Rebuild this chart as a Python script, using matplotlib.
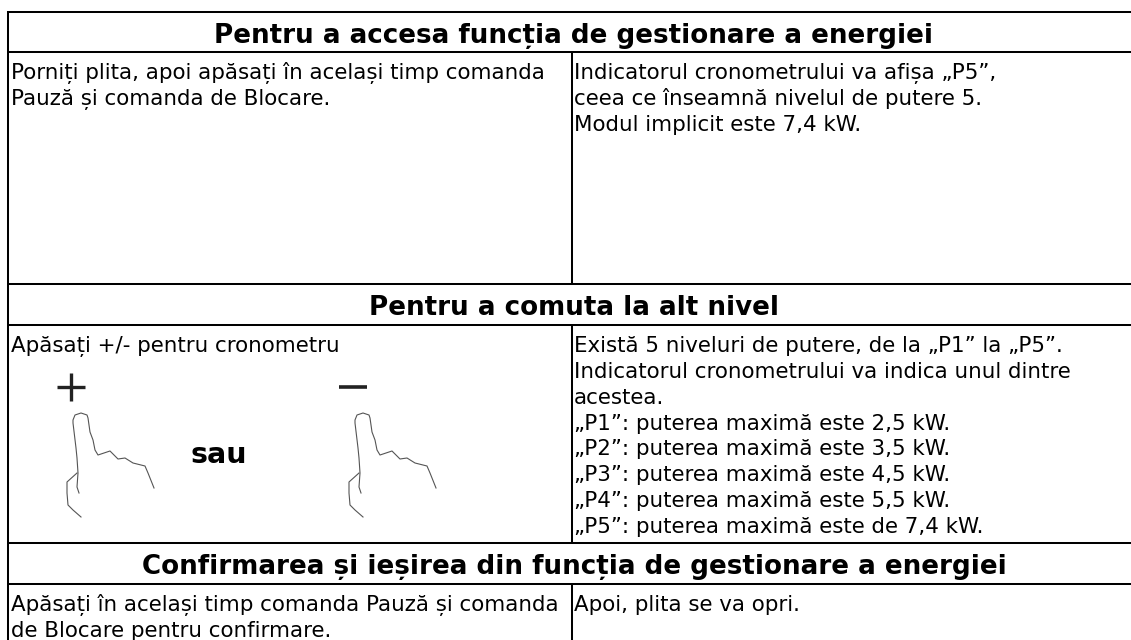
import matplotlib
matplotlib.use('Agg')
import matplotlib.pyplot as plt

plt.rcParams['font.family'] = ['DejaVu Sans']

# titluri si texte din tabel
titles = ["Pentru a accesa funcția de gestionare a energiei",
          "Pentru a comuta la alt nivel",
          "Confirmarea și ieșirea din funcția de gestionare a energiei"]
title_y = [43, 315, 574]

left_1 = ["Porniți plita, apoi apăsați în același timp comanda",
          "Pauză și comanda de Blocare."]
right_1 = ["Indicatorul cronometrului va afișa „P5”,",
           "ceea ce înseamnă nivelul de putere 5.",
           "Modul implicit este 7,4 kW."]
left_2 = ["Apăsați +/- pentru cronometru"]
right_2 = ["Există 5 niveluri de putere, de la „P1” la „P5”.",
           "Indicatorul cronometrului va indica unul dintre",
           "acestea.",
           "„P1”: puterea maximă este 2,5 kW.",
           "„P2”: puterea maximă este 3,5 kW.",
           "„P3”: puterea maximă este 4,5 kW.",
           "„P4”: puterea maximă este 5,5 kW.",
           "„P5”: puterea maximă este de 7,4 kW."]
left_3 = ["Apăsați în același timp comanda Pauză și comanda",
          "de Blocare pentru confirmare."]
right_3 = ["Apoi, plita se va opri."]

# conturul mainii, in pixeli
finger_x = [79, 77, 78, 77, 76, 73, 73, 75, 81, 87, 88, 90, 93, 95, 98, 110, 118, 125, 133, 145, 148, 154]
finger_y = [493, 487, 473, 458, 448, 423, 420, 415, 413, 415, 418, 432, 440, 450, 455, 451, 459, 458, 463, 466, 473, 488]
thumb_x = [77, 67, 67, 68, 73, 81]
thumb_y = [473, 482, 493, 505, 510, 517]
hand_shift = 282

fig = plt.figure(figsize=(11.31, 6.4), dpi=100)
ax = fig.add_axes([0, 0, 1, 1])
ax.set_xlim(0, 1131)
ax.set_ylim(640, 0)
ax.axis('off')

# linii tabel
for y in [12, 52, 284, 325, 543, 584]:
    ax.plot([7, 1131], [y, y], color='black', lw=1.45, solid_capstyle='butt')
ax.plot([7.5, 7.5], [11, 640], color='black', lw=1.45, solid_capstyle='butt')
for y0, y1 in [(52, 284), (325, 543), (584, 640)]:
    ax.plot([572, 572], [y0, y1], color='black', lw=1.45, solid_capstyle='butt')

for t, y in zip(titles, title_y):
    ax.text(574, y, t, ha='center', va='baseline', fontsize=18.8, fontweight='bold', color='black')


def lines(x, y0, rows, step=25.86):
    for i, r in enumerate(rows):
        ax.text(x, y0 + i * step, r, ha='left', va='baseline', fontsize=15.4, color='black')


lines(11, 79, left_1)
lines(574, 79, right_1)
lines(11, 352, left_2)
lines(574, 352, right_2)
lines(11, 611, left_3)
lines(574, 611, right_3)

ax.text(219, 463, "sau", ha='center', va='baseline', fontsize=20.5, fontweight='bold', color='black')

# plus si minus
ax.plot([57, 85], [387, 387], color='#222222', lw=2.4, solid_capstyle='butt')
ax.plot([71, 71], [373, 401], color='#222222', lw=2.4, solid_capstyle='butt')
ax.plot([339, 367], [387, 387], color='#222222', lw=2.6, solid_capstyle='butt')

for dx in [0, hand_shift]:
    ax.plot([x + dx for x in finger_x], finger_y, color='#555555', lw=0.8)
    ax.plot([x + dx for x in thumb_x], thumb_y, color='#555555', lw=0.8)

fig.savefig('out.png', dpi=100)
